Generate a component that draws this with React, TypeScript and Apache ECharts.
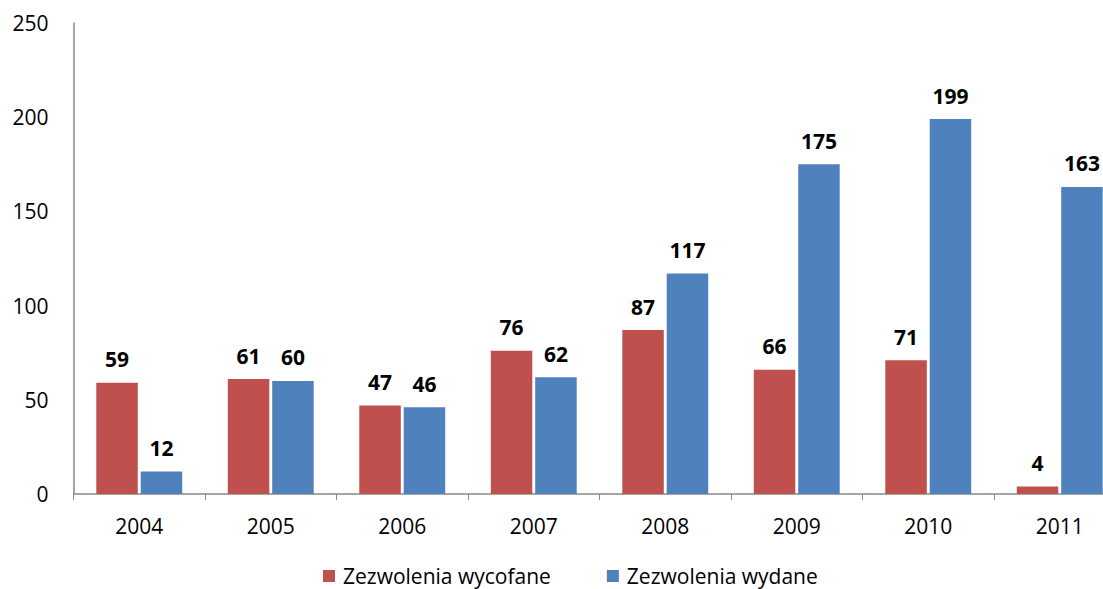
import React, { useEffect, useRef } from "react";
import * as echarts from "echarts";

const years = ["2004", "2005", "2006", "2007", "2008", "2009", "2010", "2011"];
const withdrawn = [59, 61, 47, 76, 87, 66, 71, 4];
const issued = [12, 60, 46, 62, 117, 175, 199, 163];
const seriesNames = ["Zezwolenia wycofane", "Zezwolenia wydane"];
const FONT = "Open Sans";

export default function App() {
  const ref = useRef<HTMLDivElement>(null);
  useEffect(() => {
    if (!ref.current) return;
    const chart = echarts.init(ref.current, undefined, { renderer: "svg" });
    const label = {
      show: true,
      position: "top",
      distance: 13,
      fontFamily: FONT,
      fontWeight: "bold",
      fontSize: 21,
      color: "#000",
    };
    chart.setOption({
      animation: false,
      backgroundColor: "#fff",
      grid: { left: 73.5, right: 14.5, top: 23, bottom: 95 },
      legend: {
        left: 323,
        top: 564,
        padding: 0,
        itemWidth: 12,
        itemHeight: 12,
        itemGap: 56,
        icon: "rect",
        textStyle: { fontFamily: FONT, fontSize: 21, lineHeight: 24, color: "#000", padding: [0, 0, 0, 3] },
        data: seriesNames,
      },
      xAxis: {
        type: "category",
        data: years,
        axisLine: { lineStyle: { color: "#888", width: 1.5 } },
        axisTick: { show: true, length: 6, lineStyle: { color: "#888" } },
        axisLabel: { fontFamily: FONT, fontSize: 21, color: "#000", margin: 21 },
      },
      yAxis: {
        type: "value",
        min: 0,
        max: 250,
        interval: 50,
        splitLine: { show: false },
        axisLine: { show: true, lineStyle: { color: "#888", width: 1.5 } },
        axisTick: { show: false },
        axisLabel: { fontFamily: FONT, fontSize: 21, color: "#000", margin: 25 },
      },
      series: [
        {
          name: seriesNames[0],
          type: "bar",
          data: withdrawn,
          barWidth: 41.5,
          barGap: "7%",
          itemStyle: { color: "#C0504D" },
          label,
        },
        {
          name: seriesNames[1],
          type: "bar",
          data: issued,
          barWidth: 41.5,
          barGap: "7%",
          itemStyle: { color: "#4F81BD" },
          label,
        },
      ],
    });
    return () => chart.dispose();
  }, []);
  return (
    <div style={{ position: "fixed", left: 0, top: 0, width: 1103, height: 589, overflow: "hidden", background: "#fff" }}>
      <div ref={ref} style={{ width: 1140, height: 589 }} />
    </div>
  );
}
